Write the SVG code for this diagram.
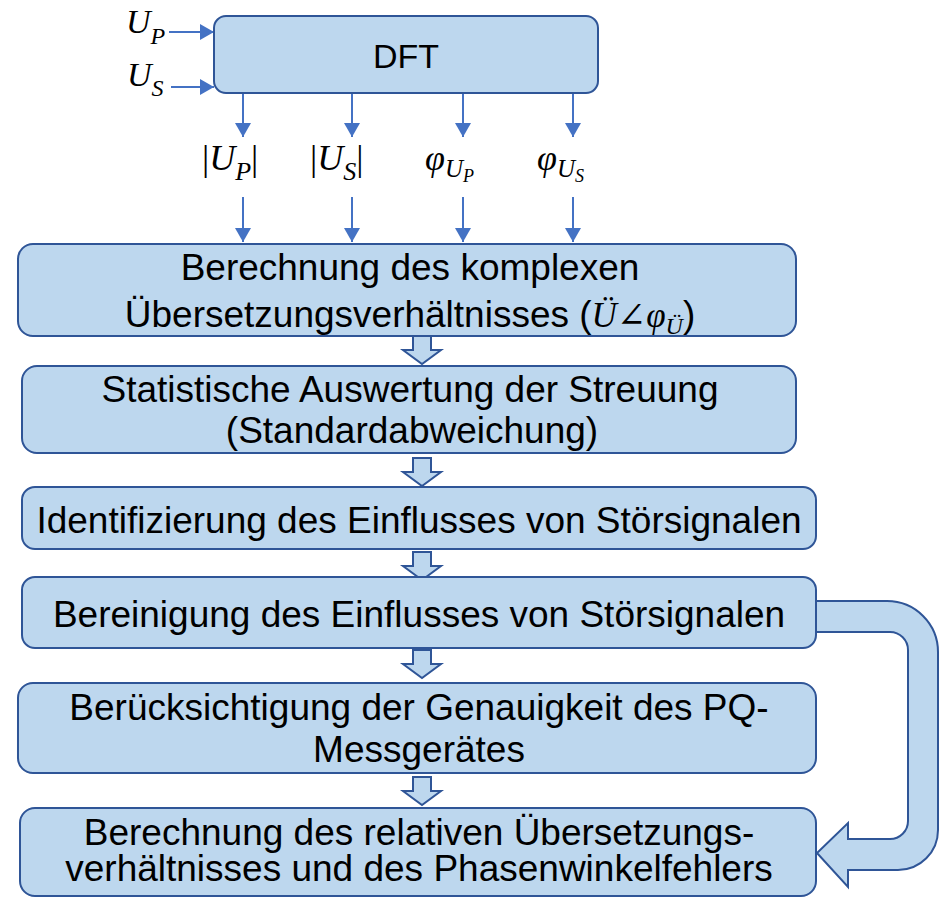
<svg xmlns="http://www.w3.org/2000/svg" width="948" height="900" viewBox="0 0 948 900">
  <style>
    .box { fill: #BDD7EE; stroke: #2F5597; stroke-width: 2; }
    .label { font-family: "Liberation Sans", Arial, sans-serif; font-size: 37px; fill: #000; text-anchor: middle; }
    .math { font-family: "Liberation Serif", "DejaVu Serif", serif; font-size: 36px; fill: #000; }
    .it { font-style: italic; }
    .wire { stroke: #4472C4; stroke-width: 2; fill: none; marker-end: url(#head); }
    .block { fill: #BDD7EE; stroke: #2F5597; stroke-width: 2; stroke-linejoin: miter; }
  </style>
  <defs>
    <marker id="head" viewBox="0 0 14 16" refX="14" refY="8" markerWidth="14" markerHeight="16" markerUnits="userSpaceOnUse" orient="auto">
      <path d="M0,0 L14,8 L0,16 Z" fill="#4472C4"/>
    </marker>
    <!-- hollow block arrow pointing down, origin at top centre -->
    <path id="down" class="block" d="M-9,0 H9 V14 H19 L0,28 L-19,14 H-9 Z"/>
  </defs>

  <!-- connectors -->
  <g id="connectors">
    <line class="wire" x1="169" y1="32" x2="214" y2="32"/>
    <line class="wire" x1="171" y1="87" x2="214" y2="87"/>
    <line class="wire" x1="243" y1="93" x2="243" y2="137"/>
    <line class="wire" x1="352" y1="93" x2="352" y2="137"/>
    <line class="wire" x1="463" y1="93" x2="463" y2="137"/>
    <line class="wire" x1="573" y1="93" x2="573" y2="137"/>
    <line class="wire" x1="243" y1="197" x2="243" y2="242"/>
    <line class="wire" x1="352" y1="197" x2="352" y2="242"/>
    <line class="wire" x1="463" y1="197" x2="463" y2="242"/>
    <line class="wire" x1="573" y1="197" x2="573" y2="242"/>
    <use href="#down" x="422" y="336"/>
    <use href="#down" x="422" y="458"/>
    <use href="#down" x="422" y="552"/>
    <use href="#down" x="422" y="650"/>
    <use href="#down" x="422" y="777"/>
    <!-- U-turn arrow from the correction step to the final step -->
    <path class="block" d="M806,601 H887 A51,51 0 0 1 938,652 V830 A40,40 0 0 1 898,870 H848 V887 L817,853 L848,823 V839 H890 A18,18 0 0 0 908,821 V650 A18,18 0 0 0 890,632 H806 Z"/>
  </g>

  <!-- input labels -->
  <g id="inputs">
    <text class="math it" x="126" y="33" style="font-size:34px">U<tspan font-size="24" dy="11">P</tspan></text>
    <text class="math it" x="127" y="86" style="font-size:34px">U<tspan font-size="24" dy="10">S</tspan></text>
  </g>

  <g id="dft">
    <rect class="box" x="214" y="16" width="384" height="77" rx="12"/>
    <text class="label" x="406" y="68" style="font-size:34px">DFT</text>
  </g>

  <!-- DFT outputs -->
  <g id="outputs">
    <text class="math" x="202" y="170">|<tspan class="it">U</tspan><tspan class="it" font-size="26" dy="10">P</tspan><tspan dy="-10">|</tspan></text>
    <text class="math" x="310" y="170">|<tspan class="it">U</tspan><tspan class="it" font-size="26" dy="10">S</tspan><tspan dy="-10">|</tspan></text>
    <text class="math it" x="425" y="170">φ<tspan font-size="25" dy="7">U</tspan><tspan font-size="18" dy="5">P</tspan></text>
    <text class="math it" x="537" y="170">φ<tspan font-size="25" dy="7">U</tspan><tspan font-size="18" dy="5">S</tspan></text>
  </g>

  <g id="ratio">
    <rect class="box" x="18" y="244" width="778" height="92" rx="15"/>
    <text class="label" x="410" y="280">Berechnung des komplexen</text>
    <text class="label" x="410" y="327">Übersetzungsverhältnisses (<tspan class="math it" style="font-size:35px">Ü∠φ</tspan><tspan class="math it" style="font-size:24px" dy="7">Ü</tspan><tspan dy="-7">)</tspan></text>
  </g>

  <g id="statistics">
    <rect class="box" x="22" y="366" width="774" height="87" rx="15"/>
    <text class="label" x="410" y="402">Statistische Auswertung der Streuung</text>
    <text class="label" x="412" y="443">(Standardabweichung)</text>
  </g>

  <g id="identify">
    <rect class="box" x="22" y="487" width="794" height="62" rx="13"/>
    <text class="label" x="419" y="533">Identifizierung des Einflusses von Störsignalen</text>
  </g>

  <g id="cleanup">
    <rect class="box" x="22" y="577" width="794" height="71" rx="13"/>
    <text class="label" x="419" y="627">Bereinigung des Einflusses von Störsignalen</text>
  </g>

  <g id="accuracy">
    <rect class="box" x="18" y="683" width="798" height="90" rx="15"/>
    <text class="label" x="419" y="720">Berücksichtigung der Genauigkeit des PQ-</text>
    <text class="label" x="419" y="762">Messgerätes</text>
  </g>

  <g id="result">
    <rect class="box" x="20" y="808" width="796" height="88" rx="15"/>
    <text class="label" x="419" y="845">Berechnung des relativen Übersetzungs-</text>
    <text class="label" x="419" y="881">verhältnisses und des Phasenwinkelfehlers</text>
  </g>
</svg>
